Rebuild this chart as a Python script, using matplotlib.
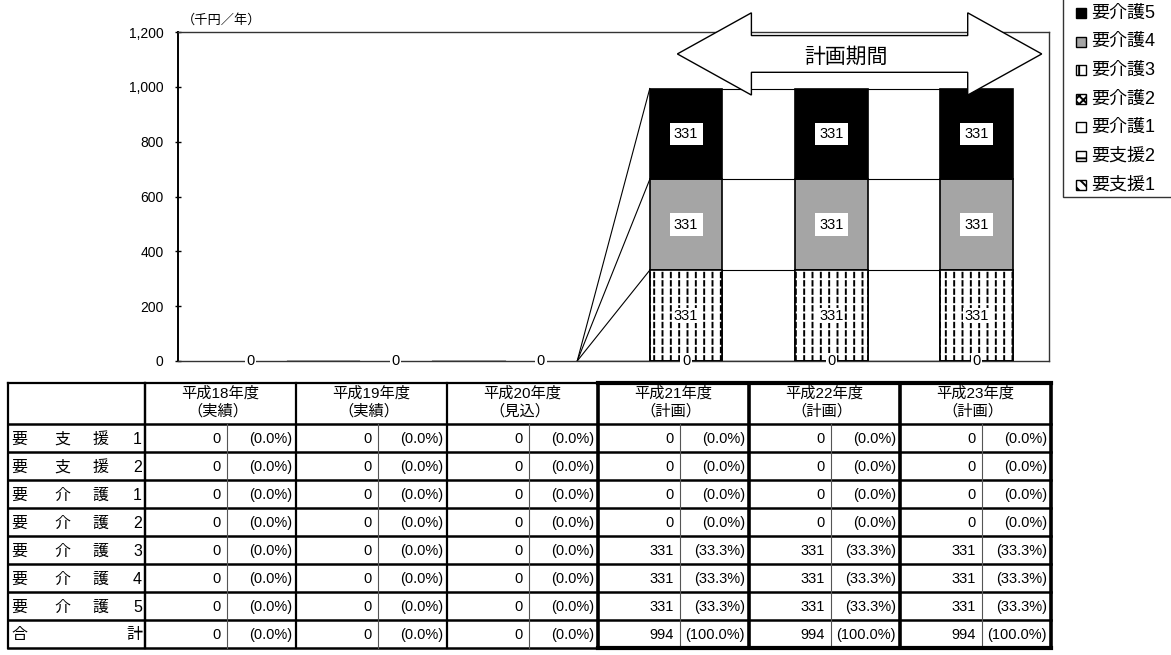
import matplotlib
matplotlib.use('Agg')
import matplotlib.pyplot as plt
from matplotlib.patches import Polygon, Rectangle
from matplotlib.lines import Line2D
import numpy as np

plt.rcParams['font.family'] = ['Liberation Sans', 'Noto Sans CJK JP', 'DejaVu Sans']
plt.rcParams['hatch.linewidth'] = 1.4

# ---------------- data ----------------
years = ['平成18年度', '平成19年度', '平成20年度', '平成21年度', '平成22年度', '平成23年度']
year_notes = ['（実績）', '（実績）', '（見込）', '（計画）', '（計画）', '（計画）']
levels = ['要支援1', '要支援2', '要介護1', '要介護2', '要介護3', '要介護4', '要介護5']
shien1 = [0, 0, 0, 0, 0, 0]
shien2 = [0, 0, 0, 0, 0, 0]
kaigo1 = [0, 0, 0, 0, 0, 0]
kaigo2 = [0, 0, 0, 0, 0, 0]
kaigo3 = [0, 0, 0, 331.3, 331.3, 331.3]
kaigo4 = [0, 0, 0, 331.3, 331.3, 331.3]
kaigo5 = [0, 0, 0, 331.3, 331.3, 331.3]
y_ticks = [0, 200, 400, 600, 800, 1000, 1200]
unit_label = '（千円／年）'
plan_label = '計画期間'
total_label = '合計'
plan_start = 3  # index of first planned year

series = [shien1, shien2, kaigo1, kaigo2, kaigo3, kaigo4, kaigo5]

# ---------------- styles ----------------
styles = {
    '要支援1': dict(fc='white', hatch='\\\\\\'),
    '要支援2': dict(fc='white', hatch='-'),
    '要介護1': dict(fc='white', hatch=None),
    '要介護2': dict(fc='white', hatch='xxxx'),
    '要介護3': dict(fc='white', hatch='||'),
    '要介護4': dict(fc='#a5a5a5', hatch=None),
    '要介護5': dict(fc='black', hatch=None),
}
label_box = {
    '要介護3': dict(boxstyle='square,pad=0.05', fc='white', ec='none'),
    '要介護4': dict(boxstyle='square,pad=0.3', fc='white', ec='none'),
    '要介護5': dict(boxstyle='square,pad=0.3', fc='white', ec='none'),
}

W, H = 1171, 655
fig = plt.figure(figsize=(W / 100, H / 100), dpi=100)


def fx(px):
    return px / W


def fy(py):
    return 1 - py / H


def hline(x0, x1, y, lw=1.5, color='black'):
    fig.add_artist(Line2D([fx(x0), fx(x1)], [fy(y), fy(y)], transform=fig.transFigure,
                          lw=lw, color=color, solid_capstyle='projecting'))


def vline(x, y0, y1, lw=1.5, color='black'):
    fig.add_artist(Line2D([fx(x), fx(x)], [fy(y0), fy(y1)], transform=fig.transFigure,
                          lw=lw, color=color, solid_capstyle='projecting'))


# ---------------- chart ----------------
ax = fig.add_axes([fx(178), fy(361), fx(1049) - fx(178), fy(32) - fy(361)])
x = np.arange(len(years))
bw = 0.5
bottom = np.zeros(len(years))
tops = []
for name, vals in zip(levels, series):
    vals = np.array(vals, float)
    st = styles[name]
    m = vals > 0
    if m.any():
        ax.bar(x[m], vals[m], bw, bottom=bottom[m], color=st['fc'], edgecolor='black',
               lw=1.2, hatch=st['hatch'], zorder=3)
        if name == '要介護3':
            ax.bar(x[m], vals[m], bw, bottom=bottom[m], color='none', edgecolor='white',
                   lw=0, hatch='--', zorder=3.1)
            ax.bar(x[m], vals[m], bw, bottom=bottom[m], color='none', edgecolor='black',
                   lw=1.2, zorder=3.2)
        for xi, v, b in zip(x[m], vals[m], bottom[m]):
            ax.text(xi, b + v / 2, f'{v:,.0f}', ha='center', va='center', fontsize=10.5,
                    bbox=label_box.get(name), zorder=5)
    bottom = bottom + vals
    tops.append(bottom.copy())

# zero labels at the base of every bar
zero_any = np.zeros(len(years), bool)
for vals in series:
    zero_any |= (np.array(vals) == 0)
for xi in x[zero_any]:
    ax.text(xi, 0, '0', ha='center', va='center', fontsize=10.5,
            bbox=dict(boxstyle='square,pad=0.1', fc='white', ec='none'), zorder=5)

# series lines
for t in tops:
    for j in range(len(years) - 1):
        ax.plot([x[j] + bw / 2, x[j + 1] - bw / 2], [t[j], t[j + 1]], color='black',
                lw=0.8, zorder=2)

ax.set_xlim(-0.5, len(years) - 0.5)
ax.set_ylim(y_ticks[0], y_ticks[-1])
ax.set_yticks(y_ticks)
ax.set_yticklabels([f'{t:,}' for t in y_ticks])
ax.set_xticks([])
ax.tick_params(axis='y', direction='inout', length=5, width=1, labelsize=10, pad=8)
for s in ax.spines.values():
    s.set_linewidth(1.0)
    s.set_color('#333333')
ax.spines['left'].set_linewidth(1.4)
ax.spines['left'].set_color('black')

# arrow for the planning period
yc, hh, sh = 1120, 150, 67
xl_tip, xl_base = x[plan_start] - 0.06, x[plan_start] + 0.45
xr_base, xr_tip = x[-1] - 0.06, x[-1] + 0.45
pts = [(xl_tip, yc), (xl_base, yc + hh), (xl_base, yc + sh), (xr_base, yc + sh),
       (xr_base, yc + hh), (xr_tip, yc), (xr_base, yc - hh), (xr_base, yc - sh),
       (xl_base, yc - sh), (xl_base, yc - hh)]
ax.add_patch(Polygon(pts, closed=True, fc='white', ec='black', lw=1.0, zorder=6,
                     clip_on=False))
ax.text((x[plan_start] + x[-1]) / 2 + 0.1, yc - 12, plan_label, ha='center', va='center',
        fontsize=15, zorder=7)

fig.text(fx(182), fy(20), unit_label, ha='left', va='center', fontsize=9.5)

# ---------------- legend ----------------
fig.add_artist(Rectangle((fx(1063), fy(197)), fx(1180) - fx(1063), fy(-5) - fy(197),
                         transform=fig.transFigure, fc='white', ec='#333333', lw=1.0))
for k, name in enumerate(levels[::-1]):
    yy = 13 + 28.6 * k
    st = styles[name]
    fig.add_artist(Rectangle((fx(1076), fy(yy + 5)), fx(10), fx(10) * W / H,
                             transform=fig.transFigure, fc=st['fc'], ec='black', lw=1.0,
                             hatch=st['hatch']))
    fig.text(fx(1091), fy(yy), name, ha='left', va='center', fontsize=13)

# ---------------- table ----------------
tl, lab_r, gw, vw = 8, 145, 151, 82
ttop, hdr_b, rh = 383, 424, 28
n_rows = len(levels) + 1
tbot = hdr_b + rh * n_rows
group_x = [lab_r + gw * i for i in range(len(years) + 1)]

totals = np.sum(np.array(series, float), axis=0)
rows = [(lab, np.array(vals, float)) for lab, vals in zip(levels, series)]
rows.append((total_label, totals))

# header
for i, (yname, note) in enumerate(zip(years, year_notes)):
    cx = (group_x[i] + group_x[i + 1]) / 2
    fig.text(fx(cx), fy(393), yname, ha='center', va='center', fontsize=11)
    fig.text(fx(cx - 3), fy(411), note, ha='center', va='center', fontsize=11)

for r, (lab, vals) in enumerate(rows):
    cy = hdr_b + rh * r + rh / 2 + 1
    if lab == total_label:
        fig.text(fx(11), fy(cy), lab[0], ha='left', va='center', fontsize=11.5)
        fig.text(fx(142), fy(cy), lab[-1], ha='right', va='center', fontsize=11.5)
    else:
        for ch, px in zip(lab[:3], [19, 62, 100]):
            fig.text(fx(px), fy(cy), ch, ha='center', va='center', fontsize=11.5)
        fig.text(fx(142), fy(cy), lab[3:], ha='right', va='center', fontsize=11.5)
    for i in range(len(years)):
        v = vals[i]
        tot = totals[i]
        pct = v / tot * 100 if tot > 0 else 0.0
        fig.text(fx(group_x[i] + vw - 6), fy(cy), f'{v:,.0f}', ha='right', va='center',
                 fontsize=10.5)
        fig.text(fx(group_x[i + 1] - 4), fy(cy), f'({pct:.1f}%)', ha='right', va='center',
                 fontsize=10.5)

# table lines
hline(tl, group_x[-1], ttop, lw=1.6)
for r in range(n_rows + 1):
    hline(tl, group_x[-1], hdr_b + rh * r, lw=1.8)
vline(tl, ttop, tbot, lw=1.6)
vline(lab_r, ttop, tbot, lw=1.6)
for i in range(len(years) + 1):
    lw = 2.6 if i >= plan_start else 1.6
    vline(group_x[i], ttop, tbot, lw=lw)
for i in range(len(years)):
    vline(group_x[i] + vw, hdr_b, tbot, lw=0.8, color='#555555')
hline(group_x[plan_start], group_x[-1], ttop, lw=3)
hline(group_x[plan_start], group_x[-1], tbot, lw=3)

fig.savefig('out.png', dpi=100)
